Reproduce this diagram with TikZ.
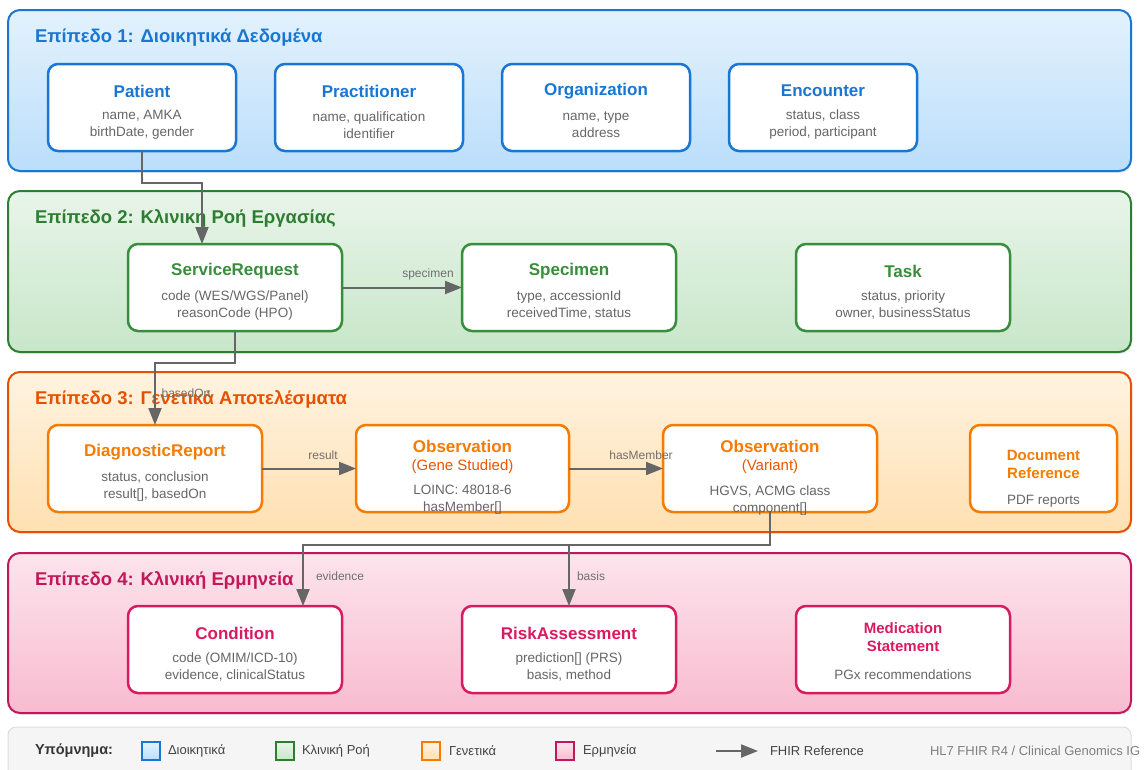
\documentclass[tikz,border=0pt]{standalone}
\usepackage{fontspec}
\setmainfont{Liberation Sans}
\usetikzlibrary{arrows.meta,calc,shadows}
\definecolor{blueB}{HTML}{1976D2}
\definecolor{blueT}{HTML}{E3F2FD}
\definecolor{blueBt}{HTML}{BBDEFB}
\definecolor{greenB}{HTML}{2E7D32}
\definecolor{greenN}{HTML}{388E3C}
\definecolor{greenT}{HTML}{E8F5E9}
\definecolor{greenBt}{HTML}{C8E6C9}
\definecolor{orangeB}{HTML}{E65100}
\definecolor{orangeN}{HTML}{F57C00}
\definecolor{orangeT}{HTML}{FFF3E0}
\definecolor{orangeBt}{HTML}{FFE0B2}
\definecolor{pinkB}{HTML}{C2185B}
\definecolor{pinkN}{HTML}{D81B60}
\definecolor{pinkT}{HTML}{FCE4EC}
\definecolor{pinkBt}{HTML}{F8BBD0}
\definecolor{txtgray}{HTML}{666666}
\definecolor{lblgray}{HTML}{707070}
\definecolor{arrgray}{HTML}{666666}
\definecolor{legF}{HTML}{F5F5F5}
\definecolor{legB}{HTML}{DDDDDD}
\definecolor{legT}{HTML}{444444}
\newcommand\entity[7]{%
  \node[entbox,draw=#5,minimum width=#4] (#1) at (#2,#3) {};
  \node[ttl,text=#5] (#1-t) at ($(#1.north)+(0,27)$) {#6};
  \node[body] (#1-b) at ($(#1.north)+(0,61)$) {#7};
}
\begin{document}
\begin{tikzpicture}[x=1pt,y=-1pt,
  every node/.style={inner sep=0pt, outer sep=0pt},
  layer/.style={rounded corners=12pt, line width=2pt, drop shadow={opacity=0.15, shadow xshift=1pt, shadow yshift=-2pt}},
  entbox/.style={rectangle, rounded corners=10pt, line width=2.5pt, fill=white, minimum height=87pt, anchor=north west},
  ltitle/.style={font=\fontsize{18.5}{22}\selectfont\bfseries, anchor=west},
  ttl/.style={font=\fontsize{17}{20}\selectfont\bfseries},
  ttls/.style={font=\fontsize{15}{18}\selectfont\bfseries},
  body/.style={font=\fontsize{13.5}{17}\selectfont, text=txtgray, align=center},
  elabel/.style={font=\fontsize{12}{14}\selectfont, text=lblgray},
  ref/.style={draw=arrgray, line width=2pt, -{Triangle[length=17pt,width=13pt]}},
  swatch/.style={rectangle, minimum size=18pt, line width=1.5pt, anchor=west},
  legtext/.style={font=\fontsize{13}{16}\selectfont, text=legT, anchor=west},
]
\fill[white] (0,0) rectangle (1147,769);
\useasboundingbox (0,0) rectangle (1147,769);

% layers
\path[layer, draw=blueB, top color=blueT, bottom color=blueBt] (8,10) rectangle (1131,171);
\path[layer, draw=greenB, top color=greenT, bottom color=greenBt] (8,191) rectangle (1131,352);
\path[layer, draw=orangeB, top color=orangeT, bottom color=orangeBt] (8,372) rectangle (1131,532);
\path[layer, draw=pinkB, top color=pinkT, bottom color=pinkBt] (8,553) rectangle (1131,713);

\node[ltitle, text=blueB] (t1) at (35,38) {Επίπεδο 1: Διοικητικά Δεδομένα};
\node[ltitle, text=greenB] (t2) at (35,218) {Επίπεδο 2: Κλινικη Ροή Εργασίας};
\node[ltitle, text=orangeB] (t3) at (35,399) {Επίπεδο 3: Γενετικά Αποτελέσματα};
\node[ltitle, text=pinkB] (t4) at (35,580) {Επίπεδο 4: Κλινική Ερμηνεία};

% layer 1
\entity{pat}{48}{64}{188pt}{blueB}{Patient}{name, AMKA\\birthDate, gender}
\entity{prac}{275}{64}{188pt}{blueB}{Practitioner}{name, qualification\\identifier}
\entity{org}{502}{64}{188pt}{blueB}{Organization}{name, type\\address}
\entity{enc}{729}{64}{188pt}{blueB}{Encounter}{status, class\\period, participant}

% layer 2
\entity{sr}{128}{244}{214pt}{greenN}{ServiceRequest}{code (WES/WGS/Panel)\\reasonCode (HPO)}
\entity{spec}{462}{244}{214pt}{greenN}{Specimen}{type, accessionId\\receivedTime, status}
\entity{task}{796}{244}{214pt}{greenN}{Task}{status, priority\\owner, businessStatus}

% layer 3
\entity{dr}{48}{425}{214pt}{orangeN}{DiagnosticReport}{status, conclusion\\result[], basedOn}
\node[entbox,draw=orangeN,minimum width=213pt] (gene) at (356,425) {};
\node[ttl,text=orangeN] (gene-t) at ($(gene.north)+(0,21)$) {Observation};
\node[font=\fontsize{15}{18}\selectfont, text=orangeB!85!orangeN] (gene-s) at ($(gene.north)+(0,42)$) {(Gene Studied)};
\node[body] (gene-b) at ($(gene.north)+(0,75)$) {LOINC: 48018-6\\hasMember[]};
\node[entbox,draw=orangeN,minimum width=214pt] (var) at (663,425) {};
\node[ttl,text=orangeN] (var-t) at ($(var.north)+(0,21)$) {Observation};
\node[font=\fontsize{15}{18}\selectfont, text=orangeB!85!orangeN] (var-s) at ($(var.north)+(0,42)$) {(Variant)};
\node[body] (var-b) at ($(var.north)+(0,75)$) {HGVS, ACMG class\\component[]};
\node[entbox,draw=orangeN,minimum width=147pt] (doc) at (970,425) {};
\node[ttls,text=orangeN,align=center] (doc-t) at ($(doc.north)+(0,39)$) {\fontsize{15}{21}\selectfont Document\\Reference};
\node[body] (doc-b) at ($(doc.north)+(0,76)$) {PDF reports};

% layer 4
\entity{cond}{128}{606}{214pt}{pinkN}{Condition}{code (OMIM/ICD-10)\\evidence, clinicalStatus}
\entity{risk}{462}{606}{214pt}{pinkN}{RiskAssessment}{prediction[] (PRS)\\basis, method}
\node[entbox,draw=pinkN,minimum width=214pt] (med) at (796,606) {};
\node[ttls,text=pinkN,align=center] (med-t) at ($(med.north)+(0,31)$) {\fontsize{15}{20}\selectfont Medication\\Statement};
\node[body] (med-b) at ($(med.north)+(0,69)$) {PGx recommendations};

% connectors
\draw[ref] (pat.south) -- ++(0,32) -| ($(sr.north)+(-33,0)$);
\draw[ref] (sr.east) -- (spec.west);
\node[elabel] (l-spec) at (428,274) {specimen};
\draw[ref] (sr.south) -- ++(0,32) -| (dr.north);
\node[elabel] (l-based) at (186,393) {basedOn};
\draw[ref] (dr.east) -- (gene.west);
\node[elabel] (l-res) at (323,455) {result};
\draw[ref] (gene.east) -- (var.west);
\node[elabel] (l-has) at (641,455) {hasMember};
\draw[ref] (var.south) -- ++(0,33) -| ($(cond.north)+(68,0)$);
\draw[ref] (var.south) -- ++(0,33) -| (risk.north);
\node[elabel, anchor=west] (l-ev) at (316,576) {evidence};
\node[elabel, anchor=west] (l-bas) at (577,576) {basis};

% legend
\path[draw=legB, fill=legF, rounded corners=8pt, line width=1pt] (8,727) rectangle (1131,795);
\node[font=\fontsize{14.5}{17}\selectfont\bfseries, text=legT!80!black, anchor=west] (leg) at (35,751) {Υπόμνημα:};
\node[swatch, draw=blueB, top color=blueT, bottom color=blueBt] (sw1) at (142,751) {};
\node[legtext] (lt1) at (168,751) {Διοικητικά};
\node[swatch, draw=greenB, top color=greenT, bottom color=greenBt] (sw2) at (276,751) {};
\node[legtext] (lt2) at (302,751) {Κλινική Ροή};
\node[swatch, draw=orangeN, top color=orangeT, bottom color=orangeBt] (sw3) at (422,751) {};
\node[legtext] (lt3) at (449,751) {Γενετικά};
\node[swatch, draw=pinkB, top color=pinkT, bottom color=pinkBt] (sw4) at (556,751) {};
\node[legtext] (lt4) at (583,751) {Ερμηνεία};
\coordinate (la1) at (716,751);
\coordinate (la2) at (758,751);
\draw[ref] (la1) -- (la2);
\node[legtext] (lt5) at (770,751) {FHIR Reference};
\node[legtext, text=black!50] (lt6) at (930,751) {HL7 FHIR R4 / Clinical Genomics IG};
\end{tikzpicture}
\end{document}
